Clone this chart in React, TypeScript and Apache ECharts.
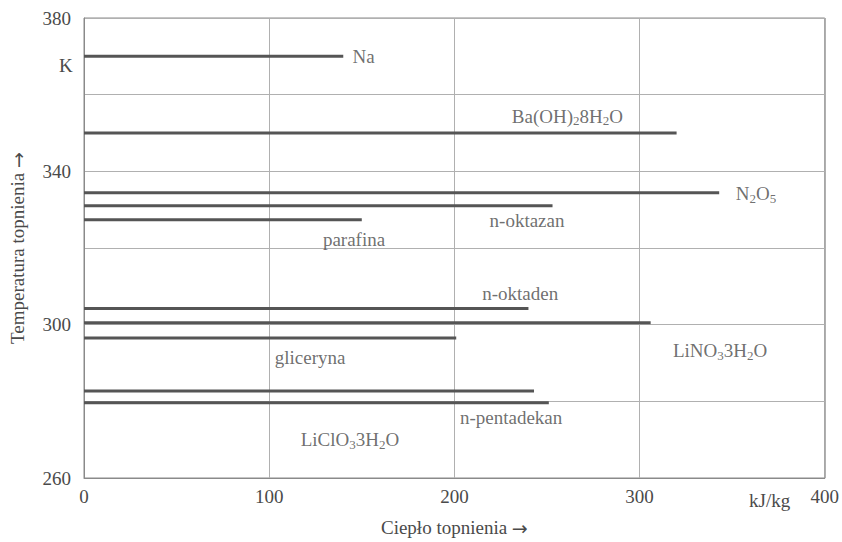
import React, { useEffect, useRef } from "react";
import * as echarts from "echarts";

// Melting temperature (K) and heat of fusion (kJ/kg) of each material line
const materials = ["Na", "Ba(OH)2·8H2O", "N2O5", "n-oktazan", "parafina", "n-oktaden", "LiNO3·3H2O", "gliceryna", "LiClO3·3H2O", "n-pentadekan"];
const meltTemp = [370, 350, 334.4, 331, 327.4, 304.2, 300.5, 296.5, 282.7, 279.6];
const heatOfFusion = [140, 320, 343, 253, 150, 240, 306, 201, 243, 251];

// Annotation texts (rich-text markup) and their anchor in data coordinates
const labelTexts = [
  "Na",
  "Ba(OH){s|2}8H{s|2}O",
  "N{s|2}O{s|5}",
  "n-oktazan",
  "parafina",
  "n-oktaden",
  "LiNO{s|3}3H{s|2}O",
  "gliceryna",
  "n-pentadekan",
  "LiClO{s|3}3H{s|2}O",
];
const labelX = [145, 231, 352, 219, 129, 215, 318, 103, 203, 117];
const labelY = [370, 354.4, 334.2, 327.2, 322.2, 308.2, 293.2, 291.5, 275.9, 270];

const xTicks = [0, 100, 200, 300, 400];
const yLabelTicks = [260, 300, 340, 380];

const FONT = "'Liberation Serif', 'DejaVu Serif', serif";
const TEXT = "#4a4a4a";
const FS = 19;

export default function App() {
  const ref = useRef<HTMLDivElement>(null);
  useEffect(() => {
    if (!ref.current) return;
    const chart = echarts.init(ref.current, undefined, { renderer: "svg" });
    const lineSeries = materials.map((m, i) => ({
      type: "line" as const,
      name: m,
      data: [
        [0, meltTemp[i]],
        [heatOfFusion[i], meltTemp[i]],
      ],
      symbol: "none",
      silent: true,
      lineStyle: { color: "#555555", width: 3 },
    }));
    const rich = {
      s: { fontSize: 13, fontFamily: FONT, color: TEXT, verticalAlign: "bottom" as const, padding: [9, 0, 0, 0] },
    };
    const arrowRich = {
      a: { fontSize: FS, fontFamily: "'DejaVu Sans', sans-serif", color: TEXT },
    };
    chart.setOption({
      animation: false,
      backgroundColor: "#ffffff",
      grid: { left: 84, right: 17, top: 18, bottom: 61, show: true, borderColor: "#8a8a8a", borderWidth: 1 },
      xAxis: {
        type: "value",
        min: 0,
        max: 400,
        interval: 100,
        axisLine: { show: true, lineStyle: { color: "#8a8a8a" } },
        axisTick: { show: false },
        axisLabel: {
          color: TEXT,
          fontFamily: FONT,
          fontSize: FS,
          margin: 9,
          formatter: (v: number) => (xTicks.includes(v) ? String(v) : ""),
        },
        splitLine: { show: true, lineStyle: { color: "#b0b0b0", width: 1 } },
        name: "Ciepło topnienia {a|→}",
        nameLocation: "middle",
        nameGap: 40,
        nameTextStyle: { color: TEXT, fontFamily: FONT, fontSize: FS, rich: arrowRich },
      },
      yAxis: {
        type: "value",
        min: 260,
        max: 380,
        interval: 20,
        axisLine: { show: true, lineStyle: { color: "#8a8a8a" } },
        axisTick: { show: false },
        axisLabel: {
          color: TEXT,
          fontFamily: FONT,
          fontSize: FS,
          margin: 13,
          formatter: (v: number) => (yLabelTicks.includes(v) ? String(v) : ""),
        },
        splitLine: { show: true, lineStyle: { color: "#b0b0b0", width: 1 } },
        name: "Temperatura topnienia {a|→}",
        nameLocation: "middle",
        nameGap: 57,
        nameRotate: 90,
        nameTextStyle: { color: TEXT, fontFamily: FONT, fontSize: FS, rich: arrowRich },
      },
      graphic: [
        { type: "text", left: 59, top: 56, style: { text: "K", fill: TEXT, font: `${FS}px ${FONT}` } },
        { type: "text", left: 749, top: 491, style: { text: "kJ/kg", fill: TEXT, font: `${FS}px ${FONT}` } },
      ],
      series: [
        ...lineSeries,
        {
          type: "scatter",
          silent: true,
          symbolSize: 0,
          data: labelTexts.map((t, i) => ({ value: [labelX[i], labelY[i]], text: t })),
          label: {
            show: true,
            position: "right",
            distance: 0,
            formatter: (p: any) => p.data.text,
            color: TEXT,
            fontFamily: FONT,
            fontSize: FS,
            rich,
          },
        },
      ],
    });
    return () => chart.dispose();
  }, []);
  return <div ref={ref} style={{ position: "fixed", left: 0, top: 0, width: 842, height: 542 }} />;
}
